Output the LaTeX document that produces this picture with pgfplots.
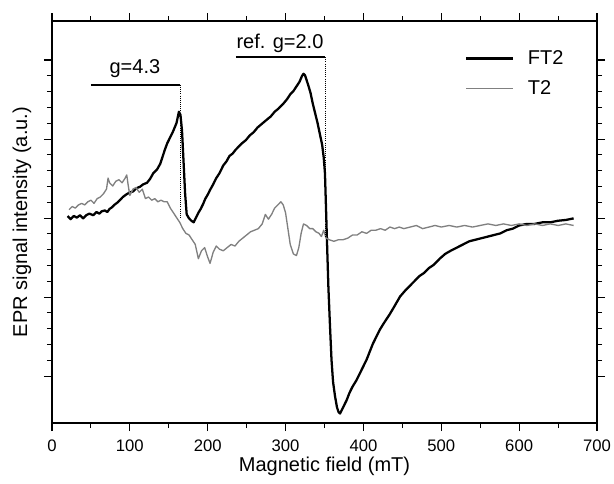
\documentclass[border=0pt]{standalone}
\usepackage{pgfplots}
\pgfplotsset{compat=1.18}
\usepackage{fontspec}
\setmainfont{Liberation Sans}
\definecolor{tgray}{RGB}{128,128,128}
\begin{document}
\begin{tikzpicture}
\useasboundingbox (-39pt,-45pt) rectangle (421.5pt,317.25pt);
\begin{axis}[
  at={(0pt,0pt)}, anchor=south west,
  width=408.75pt, height=301.5pt, scale only axis,
  xmin=0, xmax=700, ymin=0, ymax=25.44,
  xtick={0,100,...,700}, minor x tick num=1,
  ytick={2.97,7.97,12.97,17.97,22.97}, minor y tick num=4,
  yticklabels={},
  tick align=outside,
  major tick length=6pt, minor tick length=3.75pt,
  axis line style={line width=0.8pt},
  every tick/.style={line width=0.8pt, black},
  /pgf/number format/assume math mode=true,
  xticklabel style={font=\fontsize{12.5}{14}\selectfont, yshift=-3pt},
  xlabel={Magnetic field (mT)},
  ylabel={EPR signal intensity (a.u.)},
  label style={font=\fontsize{15}{18}\selectfont},
  xlabel style={at={(axis description cs:0.5,-0.107)}, anchor=center},
  ylabel style={at={(axis description cs:-0.055,0.5)}, anchor=center},
  legend style={draw=none, fill=none, at={(axis cs:530,23.76)}, anchor=north west,
    font=\fontsize{15}{18}\selectfont, row sep=6.8pt, inner sep=0pt},
  legend cell align=left,
  legend image code/.code={\draw[#1] (0pt,0pt) -- (35.5pt,0pt);},
]
\addplot[black, line width=1.7pt, line join=round] coordinates {
(20,13.1)(24,12.9)(28,13.1)(32,13.0)(36,13.15)(40,12.95)(44,13.15)(48,13.25)(53,13.15)(57,13.35)
(61,13.25)(64,13.4)(68,13.45)(71,13.35)(74,13.55)(77,13.65)(80,13.8)(84,13.95)(87,14.1)(91,14.3)
(95,14.45)(100,14.6)(104,14.65)(108,14.85)(113,14.95)(117,15.1)(122,15.2)(126,15.45)(130,15.8)(135,16.05)
(139,16.4)(142,16.85)(145,17.3)(148,17.7)(151,18.0)(155,18.4)(158,18.75)(160,19.0)(163,19.7)(165,19.5)
(167,18.5)(169,16.5)(171,14.5)(173,13.2)(176,12.95)(179,12.8)(182,12.7)(185,13.0)(188,13.3)(191,13.55)
(194,13.85)(197,14.2)(200,14.45)(203,14.75)(207,15.1)(211,15.5)(215,15.8)(220,16.3)(224,16.55)(228,16.9)
(232,17.05)(236,17.3)(240,17.5)(244,17.7)(249,17.9)(254,18.2)(259,18.4)(264,18.7)(270,18.95)(276,19.2)
(281,19.4)(286,19.7)(291,19.9)(297,20.2)(302,20.5)(306,20.8)(310,21.0)(314,21.3)(318,21.6)(321,21.95)
(323,22.1)(325,22.0)(327,21.7)(329,21.4)(332,20.9)(335,20.2)(338,19.6)(341,19.0)(344,18.3)(347,17.6)
(349,16.8)(350.6,15.8)(352,13.5)(353.5,11.0)(355,8.6)(357,6.2)(359,4.0)(361,2.6)(363.5,1.7)(366,1.0)
(368,0.7)(370,0.6)(372,0.8)(375,1.1)(378.5,1.45)(382,1.9)(386,2.3)(391,2.7)(396,3.2)(400,3.6)
(404,4.0)(408,4.5)(412,5.0)(416,5.4)(421,5.9)(426,6.3)(430,6.6)(434,6.9)(440,7.4)(447,8.0)
(454,8.4)(460,8.7)(466,9.0)(472,9.3)(478,9.5)(484,9.8)(490,10.0)(498,10.4)(505,10.7)(512,10.9)
(520,11.1)(528,11.3)(536,11.5)(544,11.6)(552,11.7)(560,11.8)(568,11.9)(576,12.0)(584,12.2)(592,12.3)
(600,12.5)(610,12.6)(620,12.6)(630,12.7)(640,12.7)(650,12.8)(660,12.85)(670,12.95)
};
\addlegendentry{\hspace{8pt}FT2}
\addplot[tgray, line width=1.0pt, line join=round] coordinates {
(22,13.5)(26,13.7)(30,13.6)(34,13.8)(38,13.9)(42,13.8)(46,14.0)(50,14.1)(54,13.9)(58,14.2)
(62,14.3)(66,14.5)(70,14.8)(72,15.5)(74,15.2)(78,15.0)(82,15.3)(86,15.4)(90,15.2)(94,15.5)
(96,15.7)(98,15.0)(100,14.4)(104,14.8)(108,14.9)(112,14.6)(116,14.8)(120,14.2)(124,14.3)(128,14.1)
(132,14.2)(136,14.0)(140,14.1)(144,14.0)(148,14.0)(152,13.6)(156,13.3)(160,13.0)(164,12.7)(168,12.3)
(172,12.0)(176,11.9)(180,11.6)(184,11.3)(188,10.4)(192,10.9)(196,11.1)(200,10.5)(203,10.1)(207,10.8)
(211,11.2)(215,11.0)(220,10.9)(225,11.1)(230,11.3)(235,11.2)(240,11.5)(245,11.7)(250,11.9)(255,12.1)
(260,12.2)(265,12.3)(270,12.6)(274,13.2)(278,12.9)(282,13.2)(286,13.6)(290,13.8)(294,14.0)(297,13.8)
(300,13.3)(303,12.3)(306,11.3)(310,10.7)(314,10.6)(317,11.1)(320,12.0)(323,12.6)(327,12.5)(331,12.3)
(335,12.3)(339,12.1)(343,12.0)(346,11.8)(349,12.2)(352,11.7)(356,11.6)(362,11.5)(368,11.6)(374,11.6)
(380,11.7)(386,11.9)(392,11.9)(398,12.1)(404,12.0)(410,12.2)(416,12.2)(422,12.3)(428,12.2)(434,12.4)
(440,12.3)(446,12.4)(452,12.3)(460,12.4)(468,12.5)(476,12.3)(484,12.4)(492,12.5)(500,12.4)(510,12.5)
(520,12.4)(530,12.5)(540,12.4)(550,12.5)(560,12.6)(570,12.5)(580,12.6)(590,12.5)(600,12.6)(610,12.5)
(620,12.6)(630,12.5)(640,12.6)(650,12.5)(660,12.6)(670,12.5)
};
\addlegendentry{\hspace{8pt}T2}
% annotations
\draw[black, line width=1.3pt] (axis cs:50,21.4) -- (axis cs:164.5,21.4);
\draw[black, densely dotted, line width=0.6pt] (axis cs:164.5,21.4) -- (axis cs:164.5,12.9);
\node[font=\fontsize{15}{18}\selectfont] at (axis cs:106.5,22.45) {g=4.3};
\draw[black, line width=1.3pt] (axis cs:236.3,23.15) -- (axis cs:350.6,23.15);
\draw[black, densely dotted, line width=0.6pt] (axis cs:350.6,23.15) -- (axis cs:350.6,11.7);
\node[font=\fontsize{15}{18}\selectfont] at (axis cs:292.8,24.05) {ref. g=2.0};
\end{axis}
\end{tikzpicture}
\end{document}
